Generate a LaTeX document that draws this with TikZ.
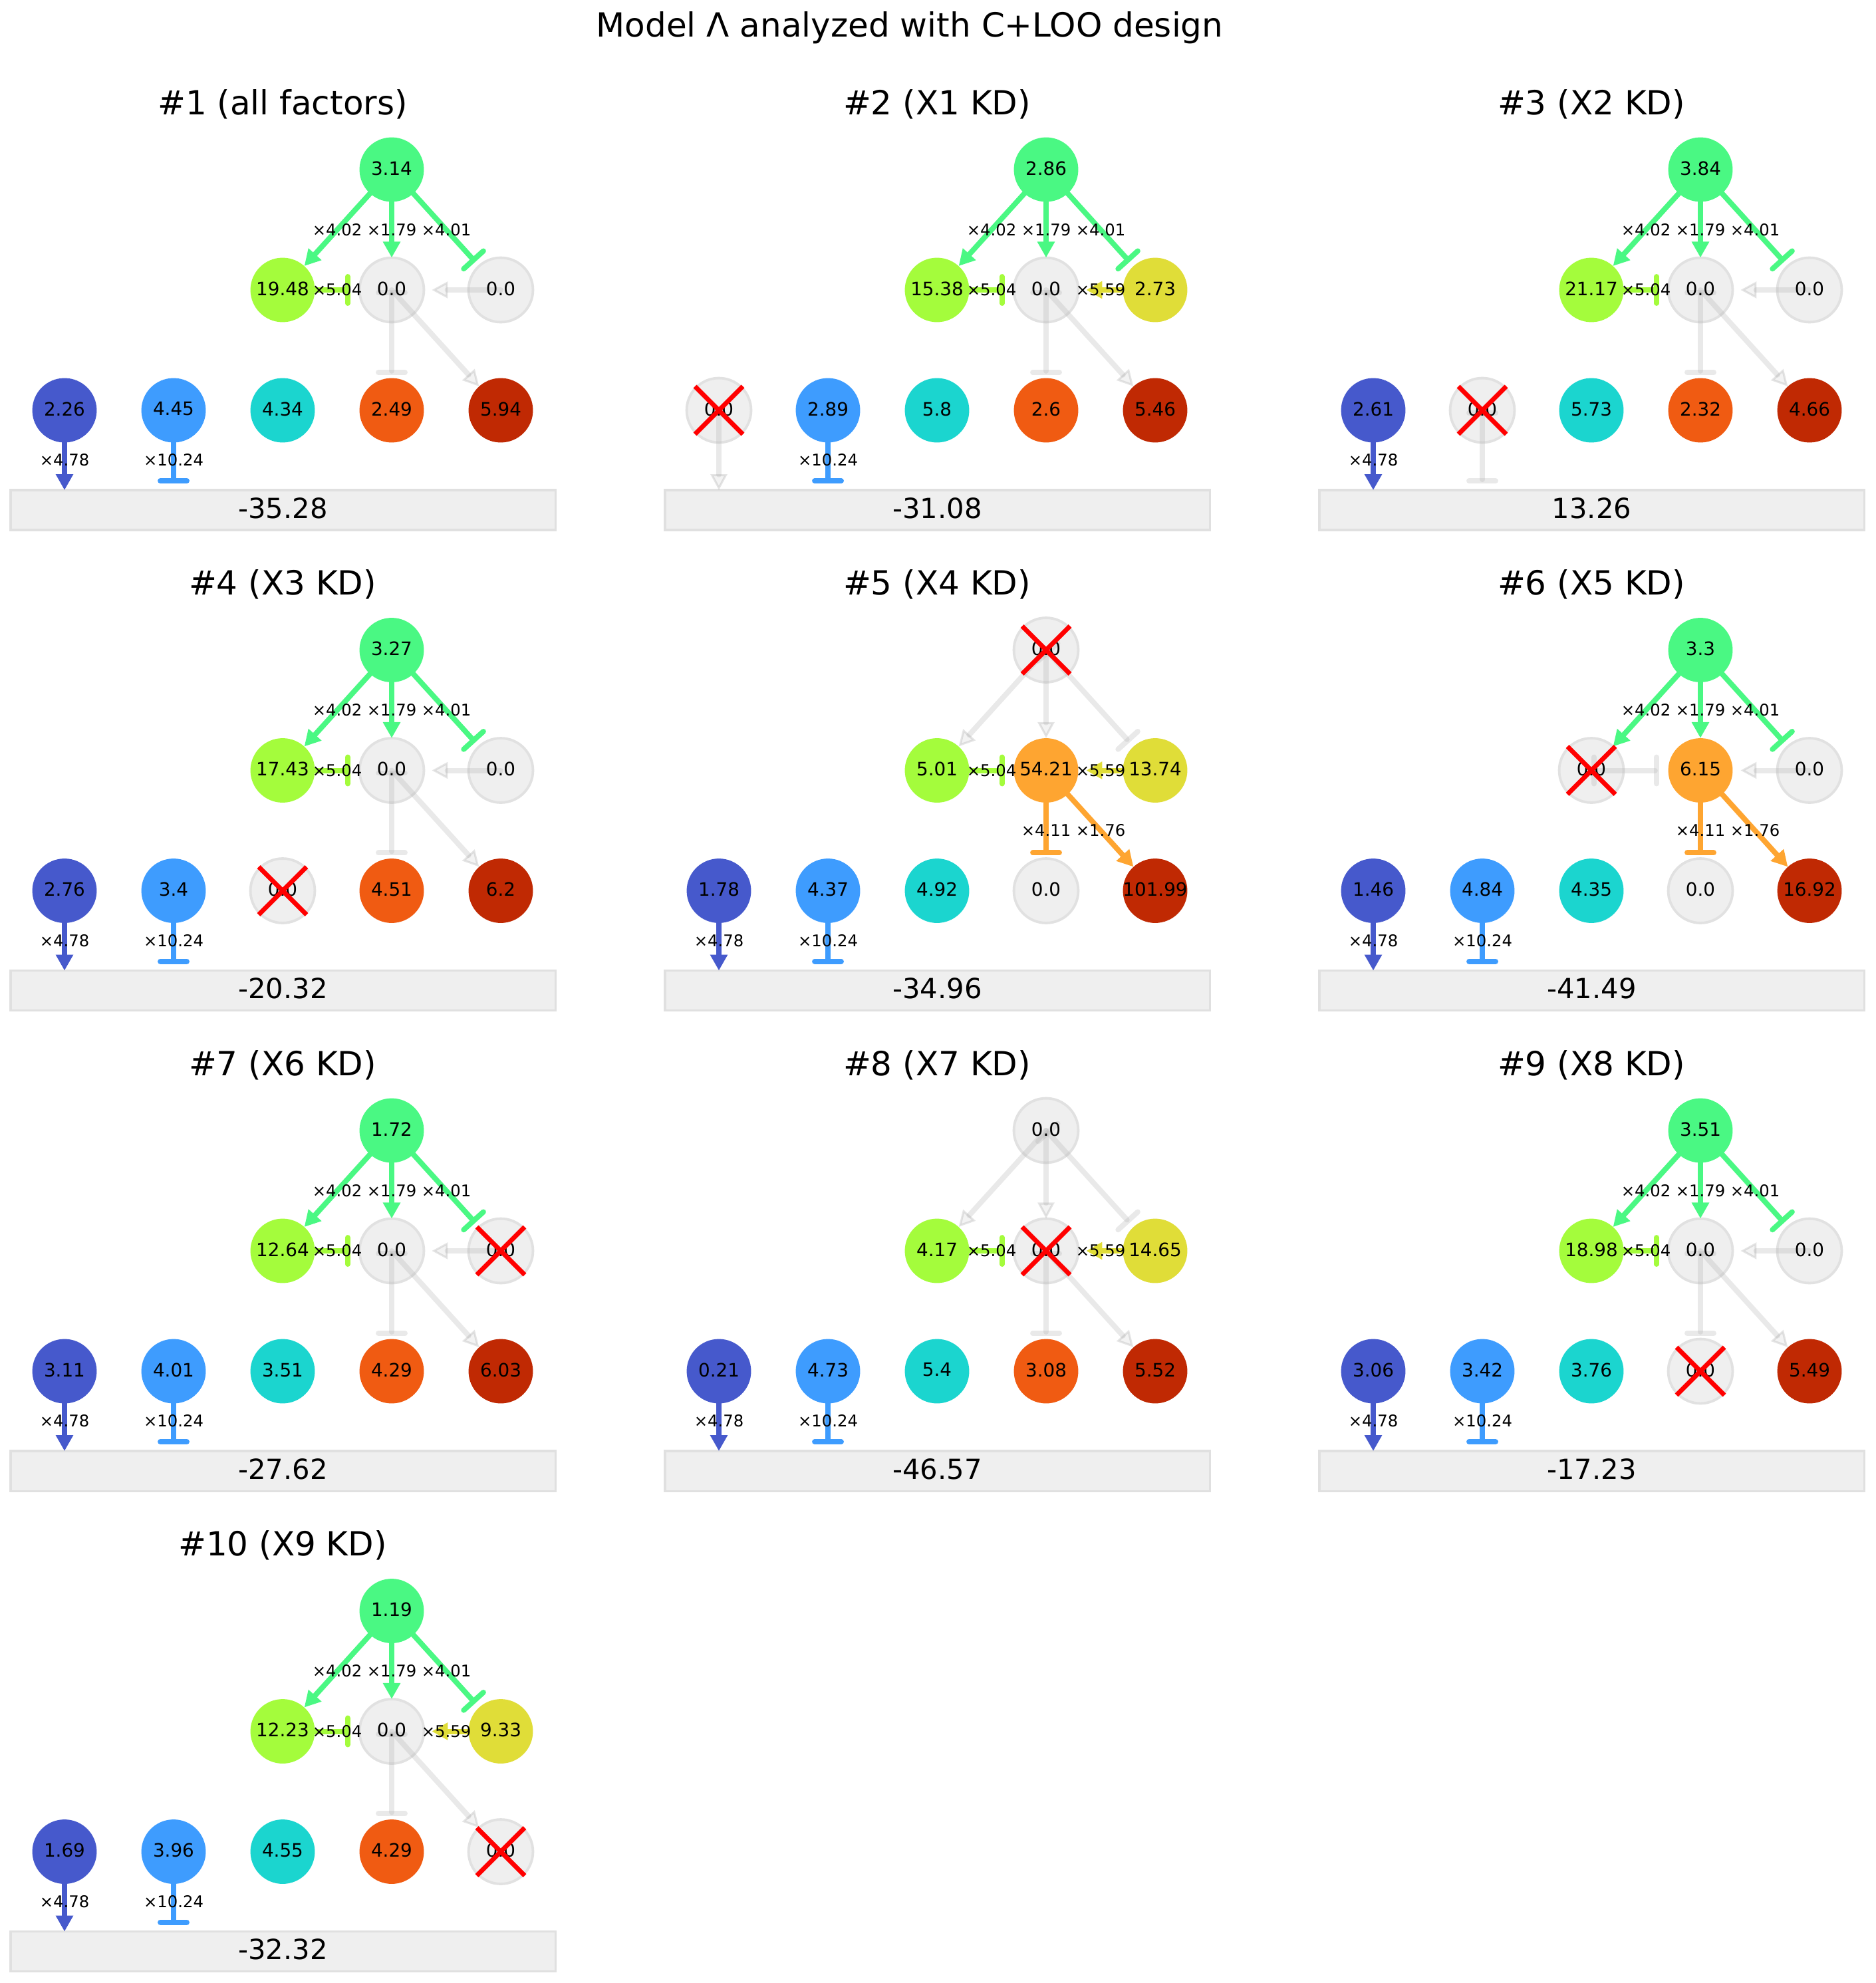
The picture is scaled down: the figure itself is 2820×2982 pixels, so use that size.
\documentclass[tikz,border=0pt]{standalone}
\usepackage{fontspec}
\setmainfont{DejaVu Sans}
\usetikzlibrary{arrows.meta,calc}

\definecolor{cT}{HTML}{4AF883}
\definecolor{cL}{HTML}{A4FC3C}
\definecolor{cM}{HTML}{FEA531}
\definecolor{cR}{HTML}{E0DD38}
\definecolor{cA}{HTML}{4659CC}
\definecolor{cB}{HTML}{3E9CFE}
\definecolor{cC}{HTML}{1BD5CF}
\definecolor{cD}{HTML}{F05B12}
\definecolor{cE}{HTML}{C02903}
\definecolor{ghfill}{HTML}{EFEFEF}
\definecolor{ghring}{HTML}{E1E1E1}
\definecolor{ghbase}{HTML}{B0B0B0}
\definecolor{ghhead}{HTML}{D4D4D4}
\definecolor{ghheadedge}{HTML}{A0A0A0}
\definecolor{boxfill}{HTML}{EFEFEF}
\definecolor{boxedge}{HTML}{E0E0E0}

\tikzset{
  cnode/.style={circle,minimum size=27.9pt,inner sep=0pt,draw=none},
  gnode/.style={circle,minimum size=27.9pt,inner sep=0pt,fill=ghfill,draw=ghring,line width=1.1pt},
  eline/.style={line width=2.3pt,line cap=round},
  acttip/.style={-{Triangle[length=6.9pt,width=7.2pt]}},
  inhtip/.style={{Bar[width=11.5pt,round]}-{Bar[width=11.5pt,round]}},
  ghostact/.style={draw=ghbase,opacity=0.28,-{Triangle[length=6.9pt,width=7.2pt,fill=ghhead,color=ghheadedge,line width=0.9pt]}},
  ghostinh/.style={draw=ghbase,opacity=0.28,{Bar[width=11.5pt,round]}-{Bar[width=11.5pt,round]}},
  ntext/.style={font=\fontsize{8}{10}\selectfont,inner sep=0pt},
  elabel/.style={font=\fontsize{7}{9}\selectfont,inner sep=0pt},
  ptitle/.style={font=\fontsize{14.4}{17}\selectfont,inner sep=0pt,anchor=base},
  boxtext/.style={font=\fontsize{12}{14}\selectfont,inner sep=0pt},
  resbox/.style={rectangle,minimum width=235.9pt,minimum height=17.3pt,inner sep=0pt,fill=boxfill,draw=boxedge,line width=0.9pt},
  kdx/.style={draw=red,line width=2pt}
}

\def\ghostword{ghost}

\newcommand\fnode[5]{%
  \ifdim #4pt=0pt\relax
    \node[gnode] (\pp-#1) at (#2,#3) {};%
    \expandafter\def\csname col@#1\endcsname{ghost}%
  \else
    \node[cnode,fill=#5] (\pp-#1) at (#2,#3) {};%
    \expandafter\def\csname col@#1\endcsname{#5}%
  \fi}

\newcommand\fedge[5]{%
  \edef\srccol{\csname col@#1\endcsname}%
  \ifx\srccol\ghostword
    \draw[eline,ghost#3,shorten >=#4] (\pp-#1.center) -- (\pp-#2.center);%
  \else
    \draw[eline,draw=\srccol,#3tip,shorten >=#4] (\pp-#1.center) -- (\pp-#2.center);%
    \node[elabel] (\pp-l#1#2) at ($(\pp-#1)!0.5!(\pp-#2)$) {#5};%
  \fi}

\newcommand\nlab[2]{\node[ntext] (\pp-v#1) at ($(\pp-#1)+(0,-2)$) {#2};}

\newcommand\drawpanel[9]{%
  \begin{scope}[shift={(\pX,\pY)}]
    \node[ptitle] (\pp-title) at (425,172) {\pTitle};
    \node[resbox] (\pp-box) at (425.5,767) {};
    \node[boxtext] (\pp-score) at (425.5,764) {\pBox};
    \coordinate (\pp-ba) at (97,767);
    \coordinate (\pp-bb) at (261,767);
    \fnode{T}{589}{255}{#1}{cT}
    \fnode{L}{425}{436}{#2}{cL}
    \fnode{M}{589}{436}{#3}{cM}
    \fnode{R}{753}{436}{#4}{cR}
    \fnode{A}{97}{617}{#5}{cA}
    \fnode{B}{261}{617}{#6}{cB}
    \fnode{C}{425}{617}{#7}{cC}
    \fnode{D}{589}{617}{#8}{cD}
    \fnode{E}{753}{617}{#9}{cE}
    \fedge{T}{L}{act}{14pt}{×4.02}
    \fedge{T}{M}{act}{14pt}{×1.79}
    \fedge{T}{R}{inh}{16.4pt}{×4.01}
    \fedge{L}{M}{inh}{17.9pt}{×5.04}
    \fedge{R}{M}{act}{17.4pt}{×5.59}
    \fedge{M}{D}{inh}{15.3pt}{×4.11}
    \fedge{M}{E}{act}{14pt}{×1.76}
    \fedge{A}{ba}{act}{8.64pt}{×4.78}
    \fedge{B}{bb}{inh}{11.5pt}{×10.24}
    \nlab{T}{#1}\nlab{L}{#2}\nlab{M}{#3}\nlab{R}{#4}
    \nlab{A}{#5}\nlab{B}{#6}\nlab{C}{#7}\nlab{D}{#8}\nlab{E}{#9}
    \ifx\pKD\empty\else
      \draw[kdx] ($(\pp-\pKD)+(-36,-36)$) -- ($(\pp-\pKD)+(36,36)$);
      \draw[kdx] ($(\pp-\pKD)+(-36,36)$) -- ($(\pp-\pKD)+(36,-36)$);
    \fi
  \end{scope}}

\begin{document}
\begin{tikzpicture}[x=0.288pt,y=-0.288pt]
\useasboundingbox (0,0) rectangle (2820,2982);
\node[ptitle] (suptitle) at (1368,56) {Model Λ analyzed with C+LOO design};

\def\pp{p1}\def\pX{0}\def\pY{0}\def\pTitle{\#1 (all factors)}\def\pBox{-35.28}\def\pKD{}
\drawpanel{3.14}{19.48}{0.0}{0.0}{2.26}{4.45}{4.34}{2.49}{5.94}

\def\pp{p2}\def\pX{984}\def\pY{0}\def\pTitle{\#2 (X1 KD)}\def\pBox{-31.08}\def\pKD{A}
\drawpanel{2.86}{15.38}{0.0}{2.73}{0.0}{2.89}{5.8}{2.6}{5.46}

\def\pp{p3}\def\pX{1968}\def\pY{0}\def\pTitle{\#3 (X2 KD)}\def\pBox{13.26}\def\pKD{B}
\drawpanel{3.84}{21.17}{0.0}{0.0}{2.61}{0.0}{5.73}{2.32}{4.66}

\def\pp{p4}\def\pX{0}\def\pY{722.5}\def\pTitle{\#4 (X3 KD)}\def\pBox{-20.32}\def\pKD{C}
\drawpanel{3.27}{17.43}{0.0}{0.0}{2.76}{3.4}{0.0}{4.51}{6.2}

\def\pp{p5}\def\pX{984}\def\pY{722.5}\def\pTitle{\#5 (X4 KD)}\def\pBox{-34.96}\def\pKD{T}
\drawpanel{0.0}{5.01}{54.21}{13.74}{1.78}{4.37}{4.92}{0.0}{101.99}

\def\pp{p6}\def\pX{1968}\def\pY{722.5}\def\pTitle{\#6 (X5 KD)}\def\pBox{-41.49}\def\pKD{L}
\drawpanel{3.3}{0.0}{6.15}{0.0}{1.46}{4.84}{4.35}{0.0}{16.92}

\def\pp{p7}\def\pX{0}\def\pY{1445}\def\pTitle{\#7 (X6 KD)}\def\pBox{-27.62}\def\pKD{R}
\drawpanel{1.72}{12.64}{0.0}{0.0}{3.11}{4.01}{3.51}{4.29}{6.03}

\def\pp{p8}\def\pX{984}\def\pY{1445}\def\pTitle{\#8 (X7 KD)}\def\pBox{-46.57}\def\pKD{M}
\drawpanel{0.0}{4.17}{0.0}{14.65}{0.21}{4.73}{5.4}{3.08}{5.52}

\def\pp{p9}\def\pX{1968}\def\pY{1445}\def\pTitle{\#9 (X8 KD)}\def\pBox{-17.23}\def\pKD{D}
\drawpanel{3.51}{18.98}{0.0}{0.0}{3.06}{3.42}{3.76}{0.0}{5.49}

\def\pp{p10}\def\pX{0}\def\pY{2167.5}\def\pTitle{\#10 (X9 KD)}\def\pBox{-32.32}\def\pKD{E}
\drawpanel{1.19}{12.23}{0.0}{9.33}{1.69}{3.96}{4.55}{4.29}{0.0}
\end{tikzpicture}
\end{document}
